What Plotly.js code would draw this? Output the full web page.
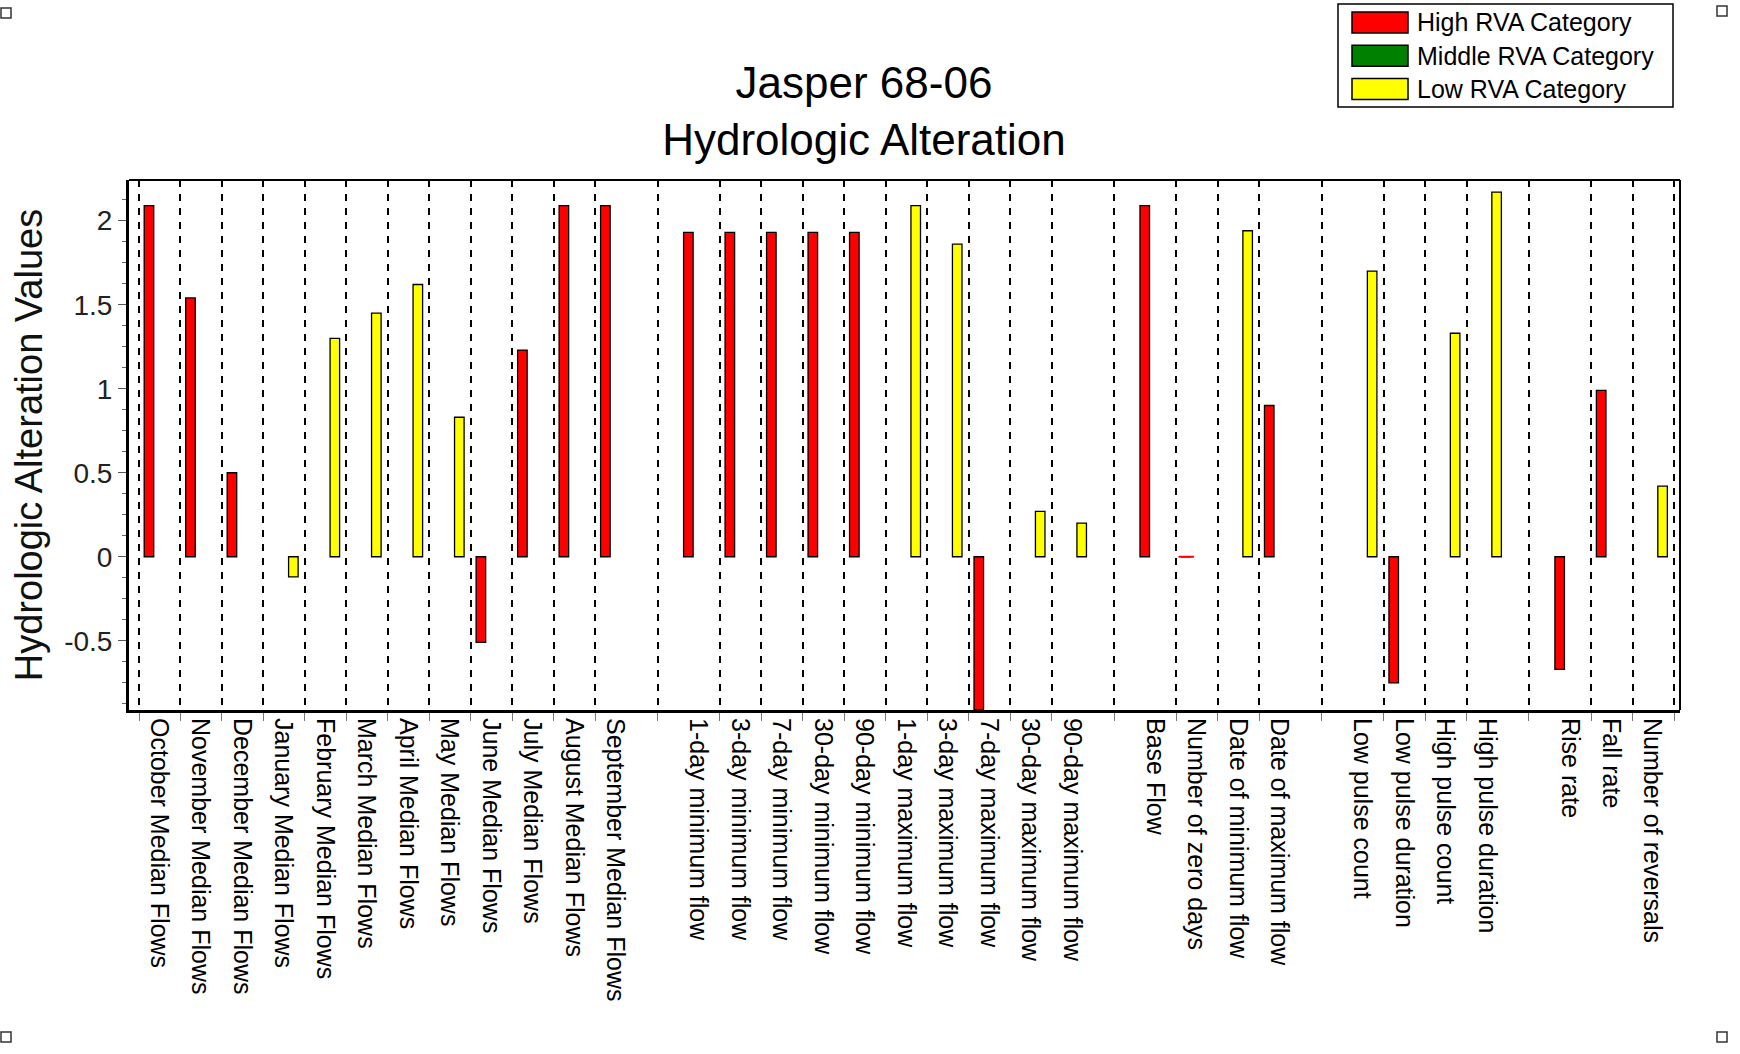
<!DOCTYPE html>
<html>
<head>
<meta charset="utf-8">
<script src="https://cdn.plot.ly/plotly-3.0.1.min.js"></script>
<style>html,body{margin:0;padding:0;background:#fff;}#chart{width:1740px;height:1054px;}</style>
</head>
<body>
<div id="chart"></div>
<script>
// ---- data (blank strings are the empty separator slots of the original chart) ----
const categories = [
  'October Median Flows','November Median Flows','December Median Flows','January Median Flows',
  'February Median Flows','March Median Flows','April Median Flows','May Median Flows',
  'June Median Flows','July Median Flows','August Median Flows','September Median Flows',
  '',
  '1-day minimum flow','3-day minimum flow','7-day minimum flow','30-day minimum flow','90-day minimum flow',
  '1-day maximum flow','3-day maximum flow','7-day maximum flow','30-day maximum flow','90-day maximum flow',
  '',
  'Base Flow','Number of zero days','Date of minimum flow','Date of maximum flow',
  '',
  'Low pulse count','Low pulse duration','High pulse count','High pulse duration',
  '',
  'Rise rate','Fall rate','Number of reversals'
];
const highRVA = [
  2.09, 1.54, 0.50, null, null, null, null, null, -0.51, 1.23, 2.09, 2.09,
  null,
  1.93, 1.93, 1.93, 1.93, 1.93, null, null, -0.91, null, null,
  null,
  2.09, 0, null, 0.90,
  null,
  null, -0.75, null, null,
  null,
  -0.67, 0.99, null
];
const middleRVA = [
  null, null, null, null, null, null, null, null, null, null, null, null,
  null,
  null, null, null, null, null, null, null, null, null, null,
  null,
  null, null, null, null,
  null,
  null, null, null, null,
  null,
  null, null, null
];
const lowRVA = [
  null, null, null, -0.12, 1.30, 1.45, 1.62, 0.83, null, null, null, null,
  null,
  null, null, null, null, null, 2.09, 1.86, null, 0.27, 0.20,
  null,
  null, null, 1.94, null,
  null,
  1.70, null, 1.33, 2.17,
  null,
  null, null, 0.42
];
const seriesNames = ['High RVA Category', 'Middle RVA Category', 'Low RVA Category'];
const seriesColors = ['#FF0000', '#008000', '#FFFF00'];
const yTickVals = [-0.5, 0, 0.5, 1, 1.5, 2];
const yTickText = ['-0.5', '0', '0.5', '1', '1.5', '2'];
const chartTitle = 'Jasper 68-06<br>Hydrologic Alteration';
const yTitle = 'Hydrologic Alteration Values';

// ---- layout helpers ----
const FONT = 'Liberation Sans, Arial, Helvetica, sans-serif';
const W = 1740, H = 1054;
const M = {l: 129, r: 60, t: 180, b: 344};
const PW = W - M.l - M.r, PH = H - M.t - M.b;
const px2x = p => (p - M.l) / PW;
const px2y = p => (H - M.b - p) / PH;

const slotX = categories.map((c, i) => i + 0.48);
const barW = 0.23;
const offsets = [-0.355, -0.115, 0.125];

const labelVals = [], labelText = [];
categories.forEach((c, i) => { if (c !== '') { labelVals.push(slotX[i]); labelText.push(c); } });
const gridVals = [];
categories.forEach((c, i) => {
  if (c !== '') gridVals.push(i > 0 && categories[i - 1] === '' ? i - 0.5 : i);
});
gridVals.push(categories.length);

const seriesData = [highRVA, middleRVA, lowRVA];
const traces = seriesData.map((vals, k) => ({
  type: 'bar',
  name: seriesNames[k],
  x: slotX,
  y: vals,
  width: barW,
  offset: offsets[k],
  marker: {color: seriesColors[k], line: {color: '#000', width: 1.3}},
  showlegend: false,
  hoverinfo: 'x+y'
}));
// zero-valued bars show as a thin coloured dash on the zero line
seriesData.forEach((vals, k) => {
  const zx = [], zy = [];
  vals.forEach((v, i) => { if (v === 0) { zx.push(slotX[i] + offsets[k] + barW / 2); zy.push(v); } });
  if (zx.length) traces.push({
    type: 'scatter', mode: 'markers', x: zx, y: zy, showlegend: false, hoverinfo: 'skip',
    marker: {symbol: 'line-ew', size: 11, line: {color: seriesColors[k], width: 2}}
  });
});

const shapes = [
  // top and right frame lines
  {type: 'line', xref: 'paper', yref: 'paper', x0: 0, x1: 1, y0: 1, y1: 1, line: {color: '#000', width: 2}},
  {type: 'line', xref: 'paper', yref: 'paper', x0: 1, x1: 1, y0: 0, y1: 1, line: {color: '#000', width: 2}}
];
const annotations = [];
// custom legend
const LB = {x0: 1338, x1: 1673, y0: 4, y1: 107};
shapes.push({type: 'rect', xref: 'paper', yref: 'paper', x0: px2x(LB.x0), x1: px2x(LB.x1), y0: px2y(LB.y1), y1: px2y(LB.y0),
  line: {color: '#000', width: 1.5}, fillcolor: '#fff'});
seriesNames.forEach((nm, k) => {
  const cy = 22.5 + k * 33.3;
  shapes.push({type: 'rect', xref: 'paper', yref: 'paper', x0: px2x(1352), x1: px2x(1408), y0: px2y(cy + 10.5), y1: px2y(cy - 10.5),
    line: {color: '#000', width: 1.5}, fillcolor: seriesColors[k]});
  annotations.push({xref: 'paper', yref: 'paper', x: px2x(1415), y: px2y(cy), xanchor: 'left', yanchor: 'middle',
    text: nm, showarrow: false, font: {family: FONT, size: 25, color: '#000'}});
});
// page handles in the corners
[[1, 8], [1717, 6], [1, 1032], [1717, 1032]].forEach(([hx, hy]) => {
  shapes.push({type: 'rect', xref: 'paper', yref: 'paper', x0: px2x(hx), x1: px2x(hx + 10), y0: px2y(hy + 10), y1: px2y(hy),
    line: {color: '#333', width: 1.5}, fillcolor: '#fff'});
});

const layout = {
  width: W, height: H, autosize: false,
  margin: M,
  paper_bgcolor: '#fff', plot_bgcolor: '#fff',
  font: {family: FONT, color: '#000'},
  barmode: 'overlay',
  showlegend: false,
  title: {text: chartTitle, font: {family: FONT, size: 44, color: '#000'},
    x: 864 / W, xref: 'container', xanchor: 'center', y: 1 - 98 / H, yref: 'container', yanchor: 'middle'},
  xaxis: {
    type: 'linear', range: [-0.241, 37.14], fixedrange: true,
    tickmode: 'array', tickvals: labelVals, ticktext: labelText, tickangle: 90,
    ticks: '', showgrid: false, zeroline: false,
    showline: true, linecolor: '#000', linewidth: 3,
    tickfont: {family: FONT, size: 25, color: '#000'},
    minor: {tickmode: 'array', tickvals: gridVals, ticks: 'outside', ticklen: 8, tickwidth: 1, tickcolor: '#777',
      showgrid: true, gridcolor: '#000', gridwidth: 2, griddash: '7px,7px'}
  },
  yaxis: {
    range: [-0.912, 2.242], fixedrange: true,
    tickmode: 'array', tickvals: yTickVals, ticktext: yTickText,
    ticks: 'outside', ticklen: 8, tickwidth: 1, tickcolor: '#555',
    showgrid: false, zeroline: false,
    showline: true, linecolor: '#000', linewidth: 3,
    tickfont: {family: FONT, size: 28, color: '#222'},
    minor: {tick0: 0, dtick: 0.125, ticks: 'outside', ticklen: 4, tickwidth: 1, tickcolor: '#666'},
    title: {text: yTitle, font: {family: FONT, size: 38, color: '#111'}, standoff: 10}
  },
  shapes: shapes,
  annotations: annotations
};

Plotly.newPlot('chart', traces, layout, {staticPlot: true, displayModeBar: false});
</script>
</body>
</html>
